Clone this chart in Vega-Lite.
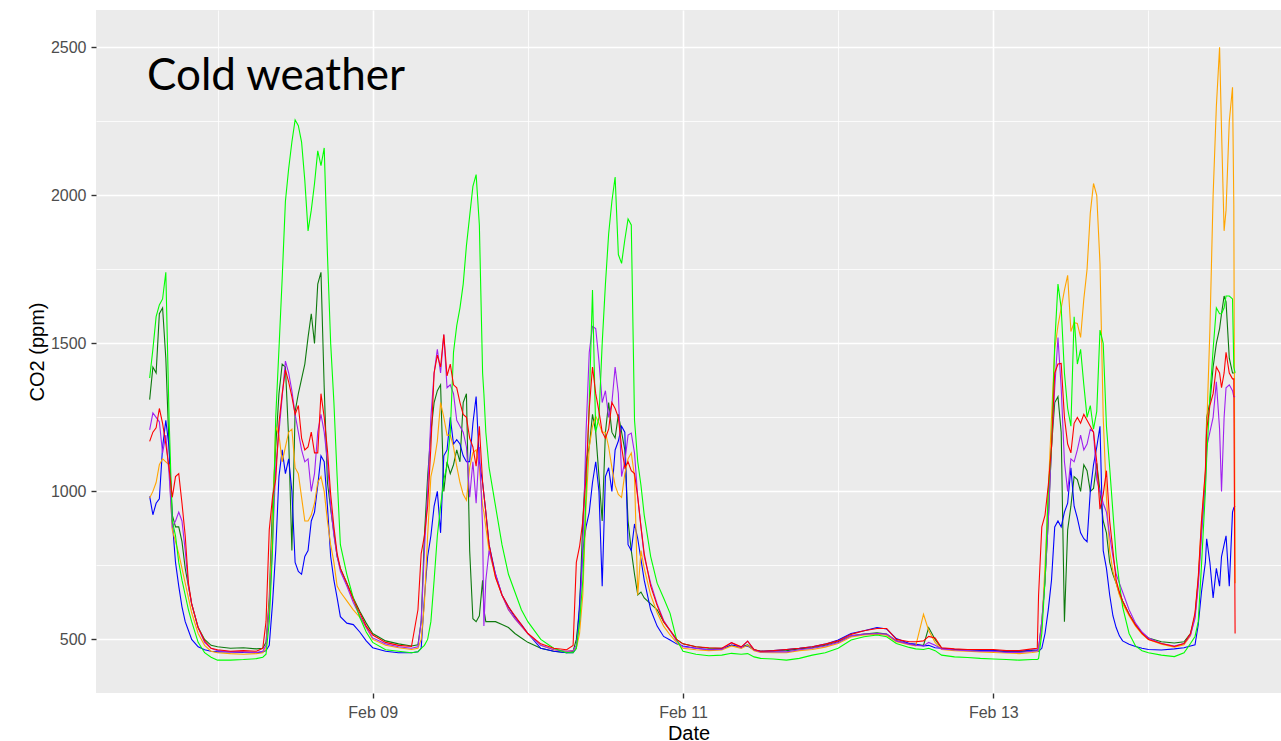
{
  "$schema": "https://vega.github.io/schema/vega-lite/v6.json",
  "width": 1185,
  "height": 683,
  "autosize": {"type": "none"},
  "padding": {"left": 96, "top": 10, "right": 0, "bottom": 48},
  "background": "#FFFFFF",
  "config": {
    "view": {"fill": "#EBEBEB", "stroke": null},
    "axis": {
      "domain": false,
      "labelFont": "Liberation Sans",
      "labelFontSize": 16,
      "labelColor": "#4D4D4D",
      "tickColor": "#333333",
      "tickSize": 5,
      "tickWidth": 1.4,
      "gridColor": "#FFFFFF",
      "titleFont": "Liberation Sans",
      "titleFontSize": 20,
      "titleFontWeight": "normal",
      "titleColor": "#000000"
    }
  },
  "title": {
    "text": "Cold weather",
    "anchor": "start",
    "frame": "group",
    "orient": "top",
    "offset": -124,
    "dx": 51,
    "baseline": "alphabetic",
    "font": "Lato",
    "fontSize": 44,
    "fontWeight": "normal",
    "color": "#000000"
  },
  "data": {"values": [
    {"t":"2020-02-07T13:30","g":1383,"d":1310,"r":1169,"p":1208,"o":978,"b":983},
    {"t":"2020-02-07T14:00","g":1480,"d":1420,"r":1200,"p":1265,"o":1000,"b":921},
    {"t":"2020-02-07T14:30","g":1590,"d":1400,"r":1215,"p":1250,"o":1030,"b":960},
    {"t":"2020-02-07T15:00","g":1630,"d":1600,"r":1280,"p":1235,"o":1090,"b":975},
    {"t":"2020-02-07T15:30","g":1650,"d":1620,"r":1230,"p":1130,"o":1110,"b":1150},
    {"t":"2020-02-07T16:00","g":1740,"d":1450,"r":1160,"p":1190,"o":1100,"b":1240},
    {"t":"2020-02-07T16:30","g":1250,"d":1150,"r":1080,"p":1060,"o":1090,"b":1150},
    {"t":"2020-02-07T17:00","g":900,"d":920,"r":980,"p":880,"o":870,"b":900},
    {"t":"2020-02-07T17:30","g":850,"d":880,"r":1050,"p":900,"o":830,"b":760},
    {"t":"2020-02-07T18:00","g":760,"d":880,"r":1060,"p":930,"o":790,"b":680},
    {"t":"2020-02-07T18:30","g":700,"d":830,"r":960,"p":900,"o":740,"b":610},
    {"t":"2020-02-07T19:00","g":650,"d":740,"r":850,"p":800,"o":690,"b":560},
    {"t":"2020-02-07T19:30","g":600,"d":680,"r":690,"p":680,"o":640,"b":530},
    {"t":"2020-02-07T20:00","g":560,"d":620,"r":620,"p":620,"o":590,"b":500},
    {"t":"2020-02-07T21:00","g":490,"d":540,"r":540,"p":540,"o":520,"b":475},
    {"t":"2020-02-07T22:00","g":455,"d":500,"r":495,"p":490,"o":480,"b":465},
    {"t":"2020-02-07T23:00","g":440,"d":480,"r":470,"p":470,"o":460,"b":460},
    {"t":"2020-02-08T00:00","g":430,"d":475,"r":465,"p":462,"o":455,"b":458},
    {"t":"2020-02-08T02:00","g":430,"d":470,"r":460,"p":458,"o":452,"b":458},
    {"t":"2020-02-08T04:00","g":432,"d":472,"r":462,"p":458,"o":450,"b":456},
    {"t":"2020-02-08T06:00","g":435,"d":468,"r":460,"p":456,"o":452,"b":455},
    {"t":"2020-02-08T07:00","g":440,"d":470,"r":470,"p":460,"o":455,"b":458},
    {"t":"2020-02-08T07:30","g":450,"d":490,"r":560,"p":480,"o":470,"b":462},
    {"t":"2020-02-08T08:00","g":560,"d":640,"r":870,"p":600,"o":620,"b":480},
    {"t":"2020-02-08T08:30","g":800,"d":950,"r":980,"p":820,"o":880,"b":620},
    {"t":"2020-02-08T09:00","g":1250,"d":1150,"r":1040,"p":1080,"o":1220,"b":800},
    {"t":"2020-02-08T09:30","g":1480,"d":1330,"r":1230,"p":1200,"o":1190,"b":1050},
    {"t":"2020-02-08T10:00","g":1720,"d":1430,"r":1330,"p":1320,"o":1100,"b":1140},
    {"t":"2020-02-08T10:30","g":1980,"d":1420,"r":1410,"p":1440,"o":1150,"b":1060},
    {"t":"2020-02-08T11:00","g":2090,"d":1180,"r":1370,"p":1400,"o":1200,"b":1110},
    {"t":"2020-02-08T11:30","g":2180,"d":800,"r":1320,"p":1340,"o":1210,"b":1000},
    {"t":"2020-02-08T12:00","g":2255,"d":1270,"r":1260,"p":1260,"o":1080,"b":760},
    {"t":"2020-02-08T12:30","g":2235,"d":1330,"r":1290,"p":1200,"o":1060,"b":730},
    {"t":"2020-02-08T13:00","g":2180,"d":1380,"r":1180,"p":1140,"o":980,"b":720},
    {"t":"2020-02-08T13:30","g":2050,"d":1430,"r":1140,"p":1100,"o":900,"b":780},
    {"t":"2020-02-08T14:00","g":1880,"d":1520,"r":1150,"p":1110,"o":900,"b":800},
    {"t":"2020-02-08T14:30","g":1950,"d":1600,"r":1200,"p":1000,"o":920,"b":900},
    {"t":"2020-02-08T15:00","g":2040,"d":1500,"r":1130,"p":1060,"o":960,"b":930},
    {"t":"2020-02-08T15:30","g":2150,"d":1700,"r":1130,"p":1200,"o":1030,"b":1020},
    {"t":"2020-02-08T16:00","g":2100,"d":1740,"r":1330,"p":1260,"o":1050,"b":1120},
    {"t":"2020-02-08T16:30","g":2160,"d":1350,"r":1250,"p":1200,"o":1000,"b":1100},
    {"t":"2020-02-08T17:00","g":1800,"d":1030,"r":1140,"p":1100,"o":900,"b":950},
    {"t":"2020-02-08T17:30","g":1500,"d":940,"r":990,"p":950,"o":820,"b":780},
    {"t":"2020-02-08T18:00","g":1300,"d":860,"r":880,"p":850,"o":760,"b":700},
    {"t":"2020-02-08T18:30","g":1050,"d":780,"r":790,"p":780,"o":680,"b":640},
    {"t":"2020-02-08T19:00","g":820,"d":740,"r":740,"p":730,"o":660,"b":577},
    {"t":"2020-02-08T20:00","g":720,"d":690,"r":690,"p":680,"o":630,"b":555},
    {"t":"2020-02-08T21:00","g":640,"d":640,"r":635,"p":625,"o":600,"b":550},
    {"t":"2020-02-08T22:00","g":575,"d":595,"r":590,"p":580,"o":575,"b":525},
    {"t":"2020-02-08T23:00","g":525,"d":555,"r":545,"p":540,"o":540,"b":495},
    {"t":"2020-02-09T00:00","g":490,"d":520,"r":515,"p":505,"o":500,"b":472},
    {"t":"2020-02-09T02:00","g":465,"d":495,"r":490,"p":485,"o":480,"b":460},
    {"t":"2020-02-09T04:00","g":460,"d":485,"r":480,"p":475,"o":472,"b":455},
    {"t":"2020-02-09T06:00","g":455,"d":478,"r":476,"p":470,"o":466,"b":455},
    {"t":"2020-02-09T07:00","g":458,"d":482,"r":600,"p":475,"o":470,"b":458},
    {"t":"2020-02-09T07:30","g":470,"d":560,"r":790,"p":560,"o":500,"b":470},
    {"t":"2020-02-09T08:00","g":480,"d":850,"r":850,"p":800,"o":620,"b":640},
    {"t":"2020-02-09T08:30","g":500,"d":1050,"r":950,"p":1000,"o":850,"b":780},
    {"t":"2020-02-09T09:00","g":560,"d":1200,"r":1150,"p":1250,"o":1050,"b":850},
    {"t":"2020-02-09T09:30","g":700,"d":1300,"r":1400,"p":1400,"o":1100,"b":950},
    {"t":"2020-02-09T10:00","g":850,"d":1340,"r":1460,"p":1480,"o":1170,"b":1000},
    {"t":"2020-02-09T10:30","g":950,"d":1360,"r":1420,"p":1400,"o":1300,"b":860},
    {"t":"2020-02-09T11:00","g":1040,"d":1000,"r":1530,"p":1530,"o":1250,"b":1120},
    {"t":"2020-02-09T11:30","g":1085,"d":1100,"r":1390,"p":1350,"o":1190,"b":1140},
    {"t":"2020-02-09T12:00","g":1200,"d":1060,"r":1430,"p":1360,"o":1190,"b":1250},
    {"t":"2020-02-09T12:30","g":1470,"d":1090,"r":1360,"p":1330,"o":1150,"b":1160},
    {"t":"2020-02-09T13:00","g":1560,"d":1140,"r":1350,"p":1240,"o":1085,"b":1175},
    {"t":"2020-02-09T13:30","g":1620,"d":1100,"r":1300,"p":1220,"o":1030,"b":1160},
    {"t":"2020-02-09T14:00","g":1700,"d":1300,"r":1260,"p":1200,"o":990,"b":1120},
    {"t":"2020-02-09T14:30","g":1830,"d":1330,"r":1250,"p":1150,"o":970,"b":1100},
    {"t":"2020-02-09T15:00","g":1930,"d":800,"r":1180,"p":980,"o":1080,"b":1100},
    {"t":"2020-02-09T15:30","g":2030,"d":570,"r":1150,"p":1100,"o":1130,"b":1230},
    {"t":"2020-02-09T16:00","g":2070,"d":560,"r":1085,"p":960,"o":1140,"b":1320},
    {"t":"2020-02-09T16:30","g":1900,"d":580,"r":1220,"p":1150,"o":1080,"b":1100},
    {"t":"2020-02-09T17:00","g":1400,"d":700,"r":1030,"p":880,"o":950,"b":1030},
    {"t":"2020-02-09T17:12","g":1330,"d":600,"r":990,"p":545,"o":930,"b":990},
    {"t":"2020-02-09T17:30","g":1200,"d":560,"r":930,"p":700,"o":880,"b":930},
    {"t":"2020-02-09T18:00","g":1080,"d":560,"r":820,"p":800,"o":800,"b":820},
    {"t":"2020-02-09T19:00","g":950,"d":560,"r":710,"p":720,"o":710,"b":720},
    {"t":"2020-02-09T20:00","g":820,"d":550,"r":650,"p":650,"o":650,"b":650},
    {"t":"2020-02-09T21:00","g":720,"d":540,"r":610,"p":600,"o":600,"b":610},
    {"t":"2020-02-09T22:00","g":660,"d":520,"r":580,"p":570,"o":570,"b":575},
    {"t":"2020-02-09T23:00","g":600,"d":505,"r":550,"p":545,"o":545,"b":550},
    {"t":"2020-02-10T00:00","g":560,"d":490,"r":520,"p":520,"o":520,"b":520},
    {"t":"2020-02-10T02:00","g":500,"d":470,"r":485,"p":480,"o":480,"b":470},
    {"t":"2020-02-10T04:00","g":470,"d":460,"r":470,"p":465,"o":465,"b":460},
    {"t":"2020-02-10T06:00","g":455,"d":455,"r":465,"p":460,"o":460,"b":455},
    {"t":"2020-02-10T07:00","g":455,"d":460,"r":480,"p":462,"o":462,"b":455},
    {"t":"2020-02-10T07:30","g":470,"d":500,"r":760,"p":480,"o":470,"b":470},
    {"t":"2020-02-10T08:00","g":560,"d":600,"r":814,"p":560,"o":520,"b":620},
    {"t":"2020-02-10T08:30","g":700,"d":900,"r":900,"p":800,"o":650,"b":800},
    {"t":"2020-02-10T09:00","g":990,"d":1100,"r":1050,"p":1200,"o":950,"b":880},
    {"t":"2020-02-10T09:30","g":1300,"d":1150,"r":1280,"p":1470,"o":1150,"b":930},
    {"t":"2020-02-10T10:00","g":1680,"d":1260,"r":1420,"p":1557,"o":1220,"b":1030},
    {"t":"2020-02-10T10:30","g":1200,"d":1200,"r":1330,"p":1550,"o":1254,"b":1100},
    {"t":"2020-02-10T11:00","g":1250,"d":1050,"r":1270,"p":1440,"o":1230,"b":1000},
    {"t":"2020-02-10T11:30","g":1500,"d":900,"r":1200,"p":1300,"o":1200,"b":680},
    {"t":"2020-02-10T12:00","g":1700,"d":1200,"r":1180,"p":1340,"o":1200,"b":1050},
    {"t":"2020-02-10T12:30","g":1870,"d":1300,"r":1210,"p":1250,"o":1150,"b":1080},
    {"t":"2020-02-10T13:00","g":1980,"d":1200,"r":1300,"p":1300,"o":1080,"b":1000},
    {"t":"2020-02-10T13:30","g":2062,"d":1180,"r":1280,"p":1420,"o":1020,"b":1140},
    {"t":"2020-02-10T14:00","g":1800,"d":1260,"r":1250,"p":1330,"o":990,"b":1170},
    {"t":"2020-02-10T14:30","g":1770,"d":1200,"r":1150,"p":1050,"o":980,"b":1220},
    {"t":"2020-02-10T15:00","g":1850,"d":1140,"r":1080,"p":1100,"o":1060,"b":1200},
    {"t":"2020-02-10T15:30","g":1920,"d":900,"r":1100,"p":1190,"o":1110,"b":820},
    {"t":"2020-02-10T16:00","g":1900,"d":800,"r":1070,"p":1197,"o":1130,"b":800},
    {"t":"2020-02-10T16:30","g":1240,"d":720,"r":1060,"p":1130,"o":1050,"b":890},
    {"t":"2020-02-10T17:00","g":1100,"d":650,"r":980,"p":980,"o":650,"b":840},
    {"t":"2020-02-10T17:30","g":1020,"d":660,"r":880,"p":880,"o":800,"b":770},
    {"t":"2020-02-10T18:00","g":920,"d":640,"r":790,"p":780,"o":740,"b":700},
    {"t":"2020-02-10T19:00","g":780,"d":620,"r":680,"p":690,"o":650,"b":600},
    {"t":"2020-02-10T20:00","g":690,"d":600,"r":615,"p":620,"o":590,"b":545},
    {"t":"2020-02-10T21:00","g":640,"d":560,"r":560,"p":565,"o":545,"b":510},
    {"t":"2020-02-10T22:00","g":588,"d":530,"r":531,"p":530,"o":515,"b":498},
    {"t":"2020-02-10T23:00","g":500,"d":500,"r":500,"p":495,"o":490,"b":485},
    {"t":"2020-02-11T00:00","g":460,"d":485,"r":485,"p":475,"o":470,"b":478},
    {"t":"2020-02-11T02:00","g":450,"d":475,"r":475,"p":470,"o":465,"b":470},
    {"t":"2020-02-11T04:00","g":445,"d":470,"r":472,"p":465,"o":462,"b":465},
    {"t":"2020-02-11T06:00","g":447,"d":470,"r":470,"p":466,"o":464,"b":468},
    {"t":"2020-02-11T07:30","g":453,"d":480,"r":489,"p":489,"o":478,"b":481},
    {"t":"2020-02-11T09:00","g":450,"d":475,"r":475,"p":472,"o":470,"b":475},
    {"t":"2020-02-11T10:00","g":452,"d":482,"r":494,"p":494,"o":480,"b":478},
    {"t":"2020-02-11T11:00","g":441,"d":465,"r":466,"p":464,"o":462,"b":464},
    {"t":"2020-02-11T12:00","g":436,"d":460,"r":460,"p":458,"o":456,"b":460},
    {"t":"2020-02-11T14:00","g":434,"d":460,"r":462,"p":458,"o":455,"b":462},
    {"t":"2020-02-11T16:00","g":430,"d":462,"r":466,"p":458,"o":455,"b":466},
    {"t":"2020-02-11T18:00","g":436,"d":468,"r":470,"p":465,"o":462,"b":470},
    {"t":"2020-02-11T20:00","g":447,"d":472,"r":475,"p":470,"o":466,"b":475},
    {"t":"2020-02-11T22:00","g":455,"d":480,"r":484,"p":478,"o":474,"b":484},
    {"t":"2020-02-12T00:00","g":470,"d":492,"r":495,"p":490,"o":486,"b":498},
    {"t":"2020-02-12T02:00","g":498,"d":512,"r":517,"p":512,"o":508,"b":520},
    {"t":"2020-02-12T04:00","g":509,"d":518,"r":529,"p":518,"o":515,"b":529},
    {"t":"2020-02-12T06:00","g":515,"d":522,"r":537,"p":520,"o":518,"b":540},
    {"t":"2020-02-12T07:30","g":509,"d":518,"r":537,"p":518,"o":514,"b":535},
    {"t":"2020-02-12T09:00","g":486,"d":495,"r":500,"p":495,"o":492,"b":503},
    {"t":"2020-02-12T11:00","g":473,"d":485,"r":492,"p":484,"o":482,"b":486},
    {"t":"2020-02-12T12:00","g":468,"d":482,"r":492,"p":480,"o":478,"b":484},
    {"t":"2020-02-12T13:12","g":466,"d":480,"r":495,"p":478,"o":585,"b":478},
    {"t":"2020-02-12T14:00","g":470,"d":540,"r":510,"p":490,"o":530,"b":480},
    {"t":"2020-02-12T15:00","g":462,"d":500,"r":505,"p":480,"o":490,"b":472},
    {"t":"2020-02-12T16:00","g":447,"d":470,"r":472,"p":468,"o":466,"b":470},
    {"t":"2020-02-12T18:00","g":441,"d":466,"r":468,"p":464,"o":462,"b":466},
    {"t":"2020-02-12T20:00","g":439,"d":464,"r":466,"p":462,"o":460,"b":465},
    {"t":"2020-02-12T22:00","g":436,"d":462,"r":466,"p":460,"o":458,"b":463},
    {"t":"2020-02-13T00:00","g":434,"d":462,"r":466,"p":460,"o":456,"b":462},
    {"t":"2020-02-13T02:00","g":432,"d":458,"r":462,"p":456,"o":454,"b":460},
    {"t":"2020-02-13T04:00","g":430,"d":458,"r":462,"p":456,"o":452,"b":460},
    {"t":"2020-02-13T06:00","g":432,"d":462,"r":468,"p":460,"o":456,"b":464},
    {"t":"2020-02-13T06:48","g":432,"d":462,"r":470,"p":462,"o":458,"b":464},
    {"t":"2020-02-13T07:00","g":435,"d":470,"r":650,"p":470,"o":465,"b":460},
    {"t":"2020-02-13T07:30","g":520,"d":560,"r":880,"p":560,"o":540,"b":470},
    {"t":"2020-02-13T08:00","g":700,"d":700,"r":920,"p":700,"o":750,"b":520},
    {"t":"2020-02-13T08:30","g":1000,"d":900,"r":1020,"p":900,"o":1000,"b":600},
    {"t":"2020-02-13T09:00","g":1150,"d":1150,"r":1150,"p":1150,"o":1250,"b":700},
    {"t":"2020-02-13T09:30","g":1500,"d":1300,"r":1400,"p":1350,"o":1480,"b":880},
    {"t":"2020-02-13T10:00","g":1700,"d":1320,"r":1430,"p":1520,"o":1560,"b":900},
    {"t":"2020-02-13T10:30","g":1620,"d":1200,"r":1432,"p":1350,"o":1620,"b":880},
    {"t":"2020-02-13T11:00","g":1400,"d":560,"r":1250,"p":1100,"o":1680,"b":930},
    {"t":"2020-02-13T11:30","g":1280,"d":870,"r":1160,"p":1000,"o":1730,"b":960},
    {"t":"2020-02-13T12:00","g":1220,"d":950,"r":1130,"p":1110,"o":1540,"b":1080},
    {"t":"2020-02-13T12:30","g":1590,"d":1050,"r":1230,"p":1100,"o":1570,"b":950},
    {"t":"2020-02-13T13:00","g":1430,"d":1040,"r":1250,"p":1140,"o":1567,"b":910},
    {"t":"2020-02-13T13:30","g":1480,"d":1000,"r":1230,"p":1190,"o":1520,"b":860},
    {"t":"2020-02-13T14:00","g":1360,"d":1090,"r":1260,"p":1140,"o":1650,"b":840},
    {"t":"2020-02-13T14:30","g":1250,"d":1070,"r":1240,"p":1160,"o":1750,"b":830},
    {"t":"2020-02-13T15:00","g":1290,"d":1000,"r":1220,"p":1210,"o":1940,"b":1000},
    {"t":"2020-02-13T15:30","g":1210,"d":1010,"r":1200,"p":1200,"o":2040,"b":1090},
    {"t":"2020-02-13T16:00","g":1270,"d":1095,"r":1100,"p":1040,"o":2000,"b":1150},
    {"t":"2020-02-13T16:30","g":1545,"d":1000,"r":940,"p":1000,"o":1770,"b":1220},
    {"t":"2020-02-13T17:00","g":1500,"d":900,"r":990,"p":960,"o":1250,"b":800},
    {"t":"2020-02-13T17:30","g":1220,"d":860,"r":1070,"p":930,"o":980,"b":740},
    {"t":"2020-02-13T18:00","g":1080,"d":760,"r":900,"p":850,"o":800,"b":650},
    {"t":"2020-02-13T18:30","g":930,"d":720,"r":800,"p":780,"o":730,"b":580},
    {"t":"2020-02-13T19:00","g":780,"d":690,"r":700,"p":720,"o":690,"b":540},
    {"t":"2020-02-13T19:30","g":690,"d":655,"r":660,"p":690,"o":650,"b":512},
    {"t":"2020-02-13T20:00","g":610,"d":630,"r":630,"p":660,"o":620,"b":495},
    {"t":"2020-02-13T21:00","g":520,"d":585,"r":585,"p":600,"o":580,"b":484},
    {"t":"2020-02-13T22:00","g":478,"d":550,"r":548,"p":555,"o":545,"b":476},
    {"t":"2020-02-13T23:00","g":462,"d":522,"r":520,"p":525,"o":518,"b":470},
    {"t":"2020-02-14T00:00","g":455,"d":505,"r":500,"p":505,"o":500,"b":466},
    {"t":"2020-02-14T02:00","g":447,"d":492,"r":486,"p":486,"o":484,"b":464},
    {"t":"2020-02-14T04:00","g":442,"d":488,"r":476,"p":478,"o":474,"b":468},
    {"t":"2020-02-14T05:30","g":455,"d":492,"r":486,"p":486,"o":482,"b":472},
    {"t":"2020-02-14T06:30","g":486,"d":520,"r":520,"p":515,"o":512,"b":478},
    {"t":"2020-02-14T07:12","g":510,"d":580,"r":590,"p":570,"o":580,"b":482},
    {"t":"2020-02-14T07:42","g":560,"d":700,"r":710,"p":680,"o":700,"b":550},
    {"t":"2020-02-14T08:12","g":750,"d":870,"r":900,"p":850,"o":900,"b":660},
    {"t":"2020-02-14T08:48","g":1000,"d":1043,"r":1070,"p":1020,"o":1060,"b":760},
    {"t":"2020-02-14T09:00","g":1110,"d":1250,"r":1207,"p":1150,"o":1207,"b":840},
    {"t":"2020-02-14T09:30","g":1320,"d":1300,"r":1290,"p":1200,"o":1545,"b":760},
    {"t":"2020-02-14T10:00","g":1480,"d":1420,"r":1330,"p":1250,"o":2000,"b":640},
    {"t":"2020-02-14T10:30","g":1620,"d":1500,"r":1420,"p":1370,"o":2300,"b":740},
    {"t":"2020-02-14T11:00","g":1600,"d":1550,"r":1400,"p":1210,"o":2500,"b":680},
    {"t":"2020-02-14T11:18","g":1600,"d":1600,"r":1350,"p":1000,"o":2220,"b":780},
    {"t":"2020-02-14T11:42","g":1620,"d":1660,"r":1400,"p":1250,"o":1880,"b":820},
    {"t":"2020-02-14T12:00","g":1660,"d":1640,"r":1470,"p":1350,"o":1950,"b":850},
    {"t":"2020-02-14T12:30","g":1660,"d":1450,"r":1400,"p":1360,"o":2250,"b":680},
    {"t":"2020-02-14T13:00","g":1650,"d":1400,"r":1380,"p":1340,"o":2365,"b":930},
    {"t":"2020-02-14T13:12","g":1420,"d":1400,"r":1380,"p":1320,"o":1970,"b":945},
    {"t":"2020-02-14T13:24","g":1400,"d":1400,"r":520,"p":1320,"o":690,"b":950}
  ]},
  "transform": [{"fold": ["d", "b", "o", "p", "g", "r"], "as": ["s", "v"]}],
  "layer": [
    {
      "mark": {"type": "point", "opacity": 0, "size": 0},
      "encoding": {
        "x": {
          "field": "t", "type": "temporal",
          "scale": {"domain": ["2020-02-07T05:12", "2020-02-14T20:30"], "nice": false},
          "axis": {
            "orient": "bottom",
            "values": [
              {"year": 2020, "month": "feb", "date": 8},
              {"year": 2020, "month": "feb", "date": 10},
              {"year": 2020, "month": "feb", "date": 12},
              {"year": 2020, "month": "feb", "date": 14}
            ],
            "grid": true, "gridWidth": 0.8, "labels": false, "ticks": false, "domain": false, "title": null
          }
        },
        "y": {
          "field": "v", "type": "quantitative",
          "scale": {"domain": [319, 2626], "nice": false, "zero": false},
          "axis": {
            "orient": "left",
            "values": [750, 1250, 1750, 2250],
            "grid": true, "gridWidth": 0.8, "labels": false, "ticks": false, "domain": false, "title": null
          }
        }
      }
    },
    {
      "mark": {"type": "line", "strokeWidth": 1.1, "clip": true},
      "encoding": {
        "x": {
          "field": "t", "type": "temporal",
          "axis": {
            "orient": "bottom",
            "values": [
              {"year": 2020, "month": "feb", "date": 9},
              {"year": 2020, "month": "feb", "date": 11},
              {"year": 2020, "month": "feb", "date": 13}
            ],
            "format": "%b %d",
            "grid": true, "gridWidth": 1.6,
            "labelPadding": 6,
            "title": "Date",
            "titlePadding": 3
          }
        },
        "y": {
          "field": "v", "type": "quantitative",
          "axis": {
            "orient": "left",
            "values": [500, 1000, 1500, 2000, 2500],
            "format": "d",
            "grid": true, "gridWidth": 1.6,
            "labelPadding": 5,
            "title": "CO2 (ppm)",
            "titlePadding": 3
          }
        },
        "color": {
          "field": "s", "type": "nominal",
          "scale": {
            "domain": ["g", "d", "r", "p", "o", "b"],
            "range": ["#00FF00", "#0E7A0E", "#FF0000", "#A020F0", "#FFA500", "#0000FF"]
          },
          "legend": null
        }
      }
    }
  ],
  "resolve": {"axis": {"x": "independent", "y": "independent"}}
}
